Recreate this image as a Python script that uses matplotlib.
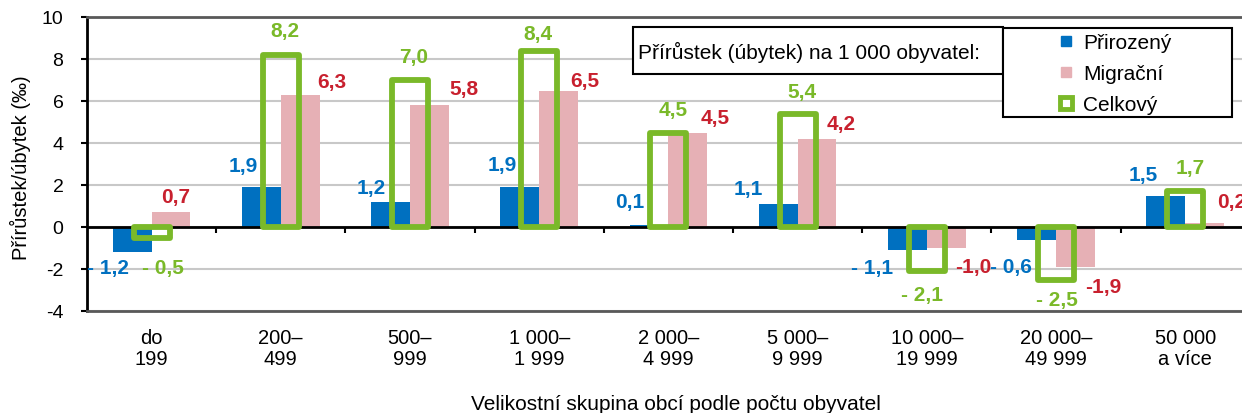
import matplotlib
matplotlib.use("Agg")
import matplotlib.pyplot as plt
from matplotlib.patches import Rectangle
from matplotlib.lines import Line2D
import numpy as np

plt.rcParams['font.family'] = ['Liberation Sans', 'DejaVu Sans']

# data
kategorie = ["do\n199", "200–\n499", "500–\n999", "1 000–\n1 999", "2 000–\n4 999",
             "5 000–\n9 999", "10 000–\n19 999", "20 000–\n49 999", "50 000\na více"]
prirozeny = [-1.2, 1.9, 1.2, 1.9, 0.1, 1.1, -1.1, -0.6, 1.5]
migracni = [0.7, 6.3, 5.8, 6.5, 4.5, 4.2, -1.0, -1.9, 0.2]
celkovy = [-0.5, 8.2, 7.0, 8.4, 4.5, 5.4, -2.1, -2.5, 1.7]
y_ticks = [-4, -2, 0, 2, 4, 6, 8, 10]

# label offsets in pixels (dx, dy up)
blue_dx = [-24, -18, -19, -18, -19, -30, -35, -26, -23]
blue_dy = [-15, 22, 14, 23, 23, 15, -17, -27, 21]
green_dx = [11, 4, 4, -1, 5, 4, -5, 1, 5]
green_dy = [-30, 24, 23, 17, 23, 22, -23, -20, 24]
red_dx = [5, 32, 35, 26, 27, 24, 27, 28, 27]
red_dy = [16, 13, 17, 10, 15, 15, -19, -20, 21]

BLUE = '#0070c0'
PINK = '#e6b0b5'
GREEN = '#7ab929'
RED = '#c8202e'

W, H = 1242, 414
fig = plt.figure(figsize=(W / 100, H / 100), dpi=100)
ax = fig.add_axes([87 / W, (H - 312) / H, 9 * 129.2 / W, 294 / H])

x = np.arange(len(kategorie))
bw = 0.3
ax.bar(x - bw / 2, prirozeny, bw, color=BLUE, zorder=2)
ax.bar(x + bw / 2, migracni, bw, color=PINK, zorder=2)
ax.bar(x, celkovy, 0.28, fill=False, edgecolor=GREEN, linewidth=4.2,
       joinstyle='round', zorder=4)

ax.set_xlim(-0.5, len(kategorie) - 0.5)
ax.set_ylim(-4, 10)
ax.set_yticks(y_ticks)
ax.set_yticklabels([str(v) for v in y_ticks])
ax.yaxis.grid(True, color='#c8c8c8', linewidth=1.5)
ax.set_axisbelow(True)

# zero line with group separator ticks
ax.axhline(0, color='black', linewidth=2, zorder=3)
ax.vlines(np.arange(len(kategorie) - 1) + 0.5, -0.3, 0, color='black', linewidth=1.5, zorder=3)

ax.set_xticks(x)
ax.set_xticklabels(kategorie, fontsize=14.5, linespacing=1.15)
ax.tick_params(axis='x', length=0, pad=12)
ax.tick_params(axis='y', length=4, width=1.5, pad=13, labelsize=14, direction='out')

ax.spines['right'].set_visible(False)
ax.spines['left'].set_color('black')
ax.spines['left'].set_linewidth(2)
ax.spines['top'].set_color('#595959')
ax.spines['top'].set_linewidth(2)
ax.spines['bottom'].set_color('#595959')
ax.spines['bottom'].set_linewidth(2)


def fmt(v, space=True):
    s = ("%.1f" % abs(v)).replace('.', ',')
    if v < 0:
        return ("- " if space else "-") + s
    return s


for i in range(len(kategorie)):
    ax.annotate(fmt(prirozeny[i]), (x[i] - bw / 2, prirozeny[i]),
                xytext=(blue_dx[i] * 0.72, blue_dy[i] * 0.72), textcoords='offset points',
                ha='center', va='center', color=BLUE, fontsize=15, fontweight='bold',
                annotation_clip=False)
    ax.annotate(fmt(migracni[i], False), (x[i] + bw / 2, migracni[i]),
                xytext=(red_dx[i] * 0.72, red_dy[i] * 0.72), textcoords='offset points',
                ha='center', va='center', color=RED, fontsize=15, fontweight='bold',
                annotation_clip=False)
    ax.annotate(fmt(celkovy[i]), (x[i], celkovy[i]),
                xytext=(green_dx[i] * 0.72, green_dy[i] * 0.72), textcoords='offset points',
                ha='center', va='center', color=GREEN, fontsize=15, fontweight='bold',
                annotation_clip=False, zorder=5)

fig.text(20 / W, 1 - 168 / H, "Přírůstek/úbytek (‰)", rotation=90, ha='center', va='center',
         fontsize=14.5)
fig.text(676 / W, 1 - 405 / H, "Velikostní skupina obcí podle počtu obyvatel", ha='center',
         va='center', fontsize=15)

# title box of the legend
fig.patches.append(Rectangle((633 / W, 1 - 75 / H), 370 / W, 47 / H, transform=fig.transFigure,
                             facecolor='white', edgecolor='black', linewidth=1.5, zorder=6))
fig.text(638 / W, 1 - 52 / H, "Přírůstek (úbytek) na 1 000 obyvatel:", ha='left', va='center',
         fontsize=15, zorder=7)

# legend box
fig.patches.append(Rectangle((1003 / W, 1 - 118 / H), 229 / W, 89 / H, transform=fig.transFigure,
                             facecolor='white', edgecolor='black', linewidth=1.5, zorder=6))
handles = [
    Line2D([], [], linestyle='none', marker='s', markersize=7, color=BLUE),
    Line2D([], [], linestyle='none', marker='s', markersize=7, color=PINK),
    Line2D([], [], linestyle='none', marker='s', markersize=8.5, markerfacecolor='white',
           markeredgecolor=GREEN, markeredgewidth=3.5),
]
leg = fig.legend(handles, ["Přirozený", "Migrační", "Celkový"], loc='upper left',
                 bbox_to_anchor=(1056 / W, 1 - 34 / H), frameon=False, fontsize=15,
                 handlelength=1, handletextpad=0.3, borderpad=0, borderaxespad=0,
                 labelspacing=0.58)
leg.set_zorder(8)

fig.savefig("out.png", dpi=100)
